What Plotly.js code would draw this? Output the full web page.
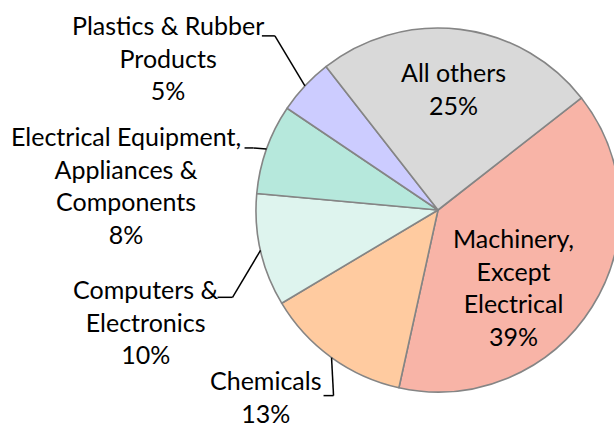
<!DOCTYPE html>
<html>
<head>
<meta charset="utf-8">
<script src="https://cdn.plot.ly/plotly-3.0.1.min.js"></script>
<style>html,body{margin:0;padding:0;overflow:hidden;background:#fff;}#chart{width:640px;height:427px;}</style>
</head>
<body>
<div id="chart"></div>
<script>
// ---- data ----
var categories = ["Machinery, Except Electrical", "Chemicals", "Computers & Electronics",
                  "Electrical Equipment, Appliances & Components", "Plastics & Rubber Products", "All others"];
var labelText = ["Machinery,<br>Except<br>Electrical", "Chemicals", "Computers &<br>Electronics",
                 "Electrical Equipment,<br>Appliances &<br>Components", "Plastics & Rubber<br>Products", "All others"];
var shares = [39, 13, 10, 8, 5, 25];
var colors = ["#F8B4A7", "#FFCBA0", "#DEF4EE", "#B6E8DC", "#CCCCFF", "#D9D9D9"];

// ---- style / layout config ----
var W = 640, H = 427;
var ROTATION = 52;
var domX = [0.3875, 0.98125], domY = [0.08197, 0.93443];
// per-slice: label centre offset from slice mid-edge point (px), leader line start & elbow offsets (px) or null
var labelStyle = [
  {dx: -79, dy: -20, line: null},
  {dx: -66, dy: 39, line: [[-8, 38], [2, 38]]},
  {dx: -115, dy: 71, line: [[-43, 47], [-28, 47]]},
  {dx: -141, dy: 36, line: [[-22, -1], [-13, -1]]},
  {dx: -137, dy: -28, line: [[-43, -50], [-30, -50]]},
  {dx: -7, dy: 59, line: null}
];

var cx = W * (domX[0] + domX[1]) / 2;
var cy = H * (1 - (domY[0] + domY[1]) / 2);
var R = Math.min(W * (domX[1] - domX[0]), H * (domY[1] - domY[0])) / 2;
function px(x) { return x / W; }
function py(y) { return 1 - y / H; }

var total = shares.reduce(function (a, b) { return a + b; }, 0);
var annotations = [], shapes = [];
var ang = ROTATION;
for (var i = 0; i < shares.length; i++) {
  var mid = ang + 360 * shares[i] / total / 2;
  ang += 360 * shares[i] / total;
  var rad = mid * Math.PI / 180;
  var ex = cx + R * Math.sin(rad), ey = cy - R * Math.cos(rad);
  var st = labelStyle[i];
  annotations.push({
    xref: "paper", yref: "paper", x: px(ex + st.dx), y: py(ey + st.dy),
    xanchor: "center", yanchor: "middle", showarrow: false, align: "center",
    borderpad: 0,
    text: labelText[i] + "<br>" + shares[i] + "%",
    font: {family: "Lato, 'Open Sans', sans-serif", size: 25, color: "#000"}
  });
  if (st.line) {
    var p0 = st.line[0], p1 = st.line[1];
    shapes.push({type: "line", xref: "paper", yref: "paper",
      x0: px(ex + p0[0]), y0: py(ey + p0[1]), x1: px(ex + p1[0]), y1: py(ey + p1[1]),
      line: {color: "#000", width: 1.5}});
    shapes.push({type: "line", xref: "paper", yref: "paper",
      x0: px(ex + p1[0]), y0: py(ey + p1[1]), x1: px(ex), y1: py(ey),
      line: {color: "#000", width: 1.5}});
  }
}

var trace = {
  type: "pie",
  labels: categories,
  values: shares,
  sort: false,
  direction: "clockwise",
  rotation: ROTATION,
  textinfo: "none",
  hoverinfo: "none",
  marker: {colors: colors, line: {color: "#858585", width: 1.6}},
  domain: {x: domX, y: domY}
};

var layout = {
  width: W, height: H,
  margin: {l: 0, r: 0, t: 0, b: 0},
  showlegend: false,
  paper_bgcolor: "#fff",
  annotations: annotations,
  shapes: shapes
};

Plotly.newPlot("chart", [trace], layout, {displayModeBar: false, staticPlot: true});
</script>
</body>
</html>
